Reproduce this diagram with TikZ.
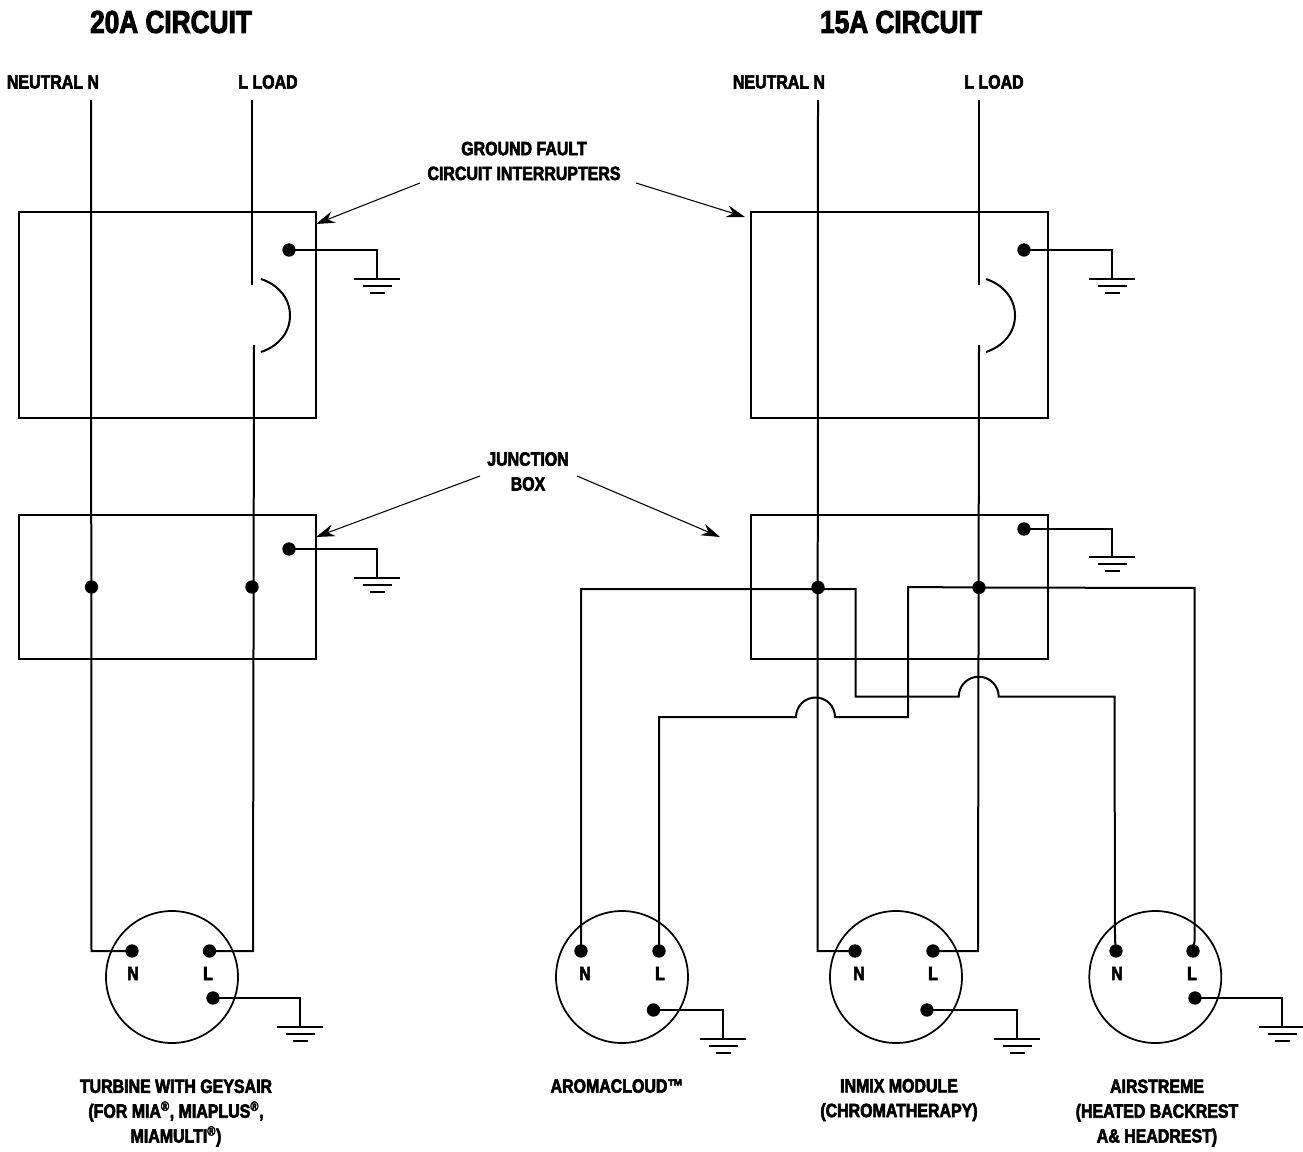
\documentclass[tikz,border=0pt]{standalone}
\usepackage{fontspec}
\setmainfont{Liberation Sans}[UprightFont={* Bold},FakeStretch=0.83,FakeBold=3]
\usetikzlibrary{arrows.meta}
\tikzset{
  x=0.75pt,y=-0.75pt,
  wire/.style={line width=1.5pt,line join=miter},
  boxline/.style={line width=1.5pt},
  dotn/.style={circle,fill=black,inner sep=0pt,minimum size=10pt},
  socket/.style={circle,draw,line width=1.3pt,inner sep=0pt,minimum size=99pt},
  lbl/.style={font=\fontsize{14.4}{18.6}\selectfont,align=center,inner sep=0pt},
  title/.style={font=\fontsize{23.7}{26}\selectfont,align=center,inner sep=0pt},
  pin/.style={font=\fontsize{14.4}{15}\selectfont,inner sep=0pt},
  leader/.style={line width=0.8pt,-{Stealth[length=14pt,width=9pt]}},
  gbar/.style={line width=1.5pt},
}
\newcommand{\gndsym}[3]{%
  \coordinate (#1) at (#2,#3);
  \draw[gbar] (#2-23,#3) -- (#2+23,#3);
  \draw[gbar] (#2-14,#3+7) -- (#2+15,#3+7);
  \draw[gbar] (#2-7,#3+14) -- (#2+8,#3+14);
}
\begin{document}
\begin{tikzpicture}
\useasboundingbox (0,0) rectangle (1303,1152);
% titles
\node[title] (t20) at (171,22) {20A CIRCUIT};
\node[title] (t15) at (901,22) {15A CIRCUIT};
\node[lbl] (n1) at (53,82) {NEUTRAL N};
\node[lbl] (l1) at (268,82) {L LOAD};
\node[lbl] (n2) at (779,82) {NEUTRAL N};
\node[lbl] (l2) at (994,82) {L LOAD};
\node[lbl] (gfci) at (524,161) {GROUND FAULT\\CIRCUIT INTERRUPTERS};
\node[lbl] (jb) at (528,471.5) {JUNCTION\\BOX};
% boxes
\node[draw,boxline,minimum width=222.75pt,minimum height=154.5pt,inner sep=0pt] (g1) at (167.5,315) {};
\node[draw,boxline,minimum width=222.75pt,minimum height=108pt,inner sep=0pt] (j1) at (167.5,587) {};
\node[draw,boxline,minimum width=222.75pt,minimum height=154.5pt,inner sep=0pt] (g2) at (899,315) {};
\node[draw,boxline,minimum width=222.75pt,minimum height=108pt,inner sep=0pt] (j2) at (899,587) {};
% leaders
\coordinate (a1) at (316,224); \coordinate (a2) at (745,217);
\coordinate (a3) at (316,537); \coordinate (a4) at (720,537);
\coordinate (s1) at (420,183); \coordinate (s2) at (636,183);
\coordinate (s3) at (480,476); \coordinate (s4) at (577,476);
\draw[leader] (s1) -- (a1);
\draw[leader] (s2) -- (a2);
\draw[leader] (s3) -- (a3);
\draw[leader] (s4) -- (a4);
% sockets
\node[socket] (c1) at (172,977) {};
\node[socket] (c2) at (622,977) {};
\node[socket] (c3) at (896,977) {};
\node[socket] (c4) at (1155.3,977) {};
% dots
\foreach \n/\x/\y in {d1g/289/250,d1j/289/549,d1n/91.5/587,d1l/252/587,
  d2g/1024/250,d2j/1024/529,d2n/818/587.5,d2l/979/587.5,
  p1n/132/951,p1l/209.5/951,p1g/213/998,
  p2n/581/951,p2l/659/951,p2g/653.5/1010,
  p3n/855/951,p3l/933/951,p3g/927/1010,
  p4n/1116/951,p4l/1193/951,p4g/1195/998}
  \node[dotn] (\n) at (\x,\y) {};
% pin letters
\foreach \n/\x/\t in {q1n/133/N,q1l/208/L,q2n/585/N,q2l/660/L,q3n/859/N,q3l/933/L,q4n/1117/N,q4l/1192/L}
  \node[pin] (\n) at (\x,973.5) {\t};
% ground symbols
\gndsym{e1}{377}{279}
\gndsym{e2}{377}{578}
\gndsym{e3}{1112}{279}
\gndsym{e4}{1112}{557}
\gndsym{e5}{300}{1027}
\gndsym{e6}{722.5}{1039}
\gndsym{e7}{1017}{1039}
\gndsym{e8}{1281.5}{1027}
\foreach \a/\b in {d1g/e1,d1j/e2,d2g/e3,d2j/e4,p1g/e5,p2g/e6,p3g/e7,p4g/e8}
  \draw[wire] (\a.center) -| (\b);
% left circuit
\coordinate (n1t) at (91,100); \coordinate (l1t) at (252,100);
\coordinate (l1a) at (252,285); \coordinate (l1b) at (254,345);
\draw[wire] (n1t) -- (91.5,951) -- (p1n.center);
\draw[wire] (l1t) -- (l1a);
\draw[wire] (l1b) -- (253,951) -- (p1l.center);
\coordinate (a1s) at (261,279); \coordinate (a1e) at (261,352);
\draw[wire] (a1s) .. controls (279,285) and (290,299) .. (290,315.5) .. controls (290,332) and (279,346) .. (a1e);
% right circuit
\coordinate (n2t) at (818,100); \coordinate (l2t) at (979,100);
\coordinate (l2a) at (979,285); \coordinate (l2b) at (979,345);
\draw[wire] (n2t) -- (817.5,951) -- (p3n.center);
\draw[wire] (l2t) -- (l2a);
\draw[wire] (l2b) -- (978,951) -- (p3l.center);
\coordinate (a2s) at (986,279); \coordinate (a2e) at (986,352);
\draw[wire] (a2s) .. controls (1004,285) and (1015,299) .. (1015,315.5) .. controls (1015,332) and (1004,346) .. (a2e);
% cross wires
\draw[wire] (p2n.center) -- (581,589) -- (855.7,589) -- (855.7,696.7) -- (958.7,696.7)
  arc[start angle=180,end angle=360,radius=20] -- (1114.5,696.7) -- (1115,940) -- (p4n.center);
\draw[wire] (p2l.center) -- (659,717) -- (796,717) arc[start angle=180,end angle=360,radius=19.5]
  -- (908,717) -- (908,587) -- (979,587.5) -- (1194.7,588) -- (1194.7,940) -- (p4l.center);
% captions
\node[lbl] (cap1) at (176,1113) {TURBINE WITH GEYSAIR\\(FOR MIA\textsuperscript{®}, MIAPLUS\textsuperscript{®},\\MIAMULTI\textsuperscript{®})};
\node[lbl] (cap2) at (617,1086) {AROMACLOUD™};
\node[lbl] (cap3) at (899,1100) {INMIX MODULE\\(CHROMATHERAPY)};
\node[lbl] (cap4) at (1157,1113) {AIRSTREME\\(HEATED BACKREST\\A\& HEADREST)};
\end{tikzpicture}
\end{document}
